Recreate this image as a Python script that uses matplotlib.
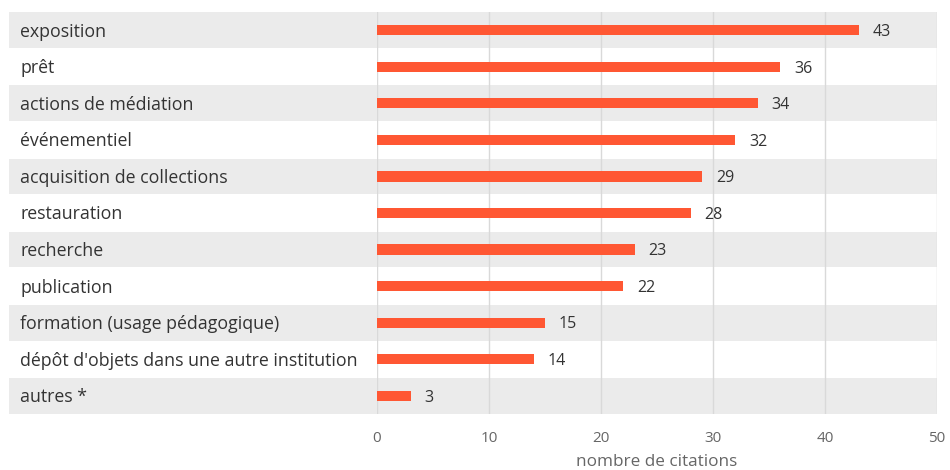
import matplotlib
matplotlib.use("Agg")
import matplotlib.pyplot as plt
from matplotlib.patches import Rectangle
from matplotlib.transforms import blended_transform_factory

categories = ["exposition", "prêt", "actions de médiation", "événementiel",
              "acquisition de collections", "restauration", "recherche",
              "publication", "formation (usage pédagogique)",
              "dépôt d'objets dans une autre institution", "autres *"]
values = [43, 36, 34, 32, 29, 28, 23, 22, 15, 14, 3]
xticks = [0, 10, 20, 30, 40, 50]
xlabel = "nombre de citations"

plt.rcParams['font.family'] = ['Open Sans', 'DejaVu Sans']

fig = plt.figure(figsize=(9.5, 4.7), dpi=100)
ax = fig.add_axes([377/950, 1-414/470, (937-377)/950, (414-12)/470])

n = len(categories)
ys = list(range(n))
ax.set_xlim(0, 50)
ax.set_ylim(n - 0.5, -0.5)

bt = blended_transform_factory(fig.transFigure, ax.transData)
for i, y in enumerate(ys):
    if i % 2 == 0:
        ax.add_patch(Rectangle((9/950, y - 0.49), (937-9)/950, 0.98,
                               transform=bt, facecolor="#ebebeb",
                               edgecolor="none", clip_on=False, zorder=0))
    ax.text(20/950, y + 0.04, categories[i], transform=bt, ha="left", va="center",
            fontsize=12.8, color="#333333")

for xt in xticks:
    ax.axvline(xt, color="#d9d9d9", lw=1, zorder=1)

ax.barh(ys, values, height=0.28, color="#ff5733", zorder=2)
for y, v in zip(ys, values):
    ax.text(v + 1.25, y + 0.05, str(v), va="center", ha="left", fontsize=11.5,
            color="#333333")

ax.set_xticks(xticks)
ax.set_xticklabels([str(t) for t in xticks], fontsize=11, color="#666666")
ax.tick_params(axis="x", length=0, pad=12)
ax.set_yticks([])
for s in ax.spines.values():
    s.set_visible(False)
ax.patch.set_visible(False)
ax.set_xlabel(xlabel, fontsize=12.3, color="#666666", labelpad=6)

fig.savefig("out.png", dpi=100)
